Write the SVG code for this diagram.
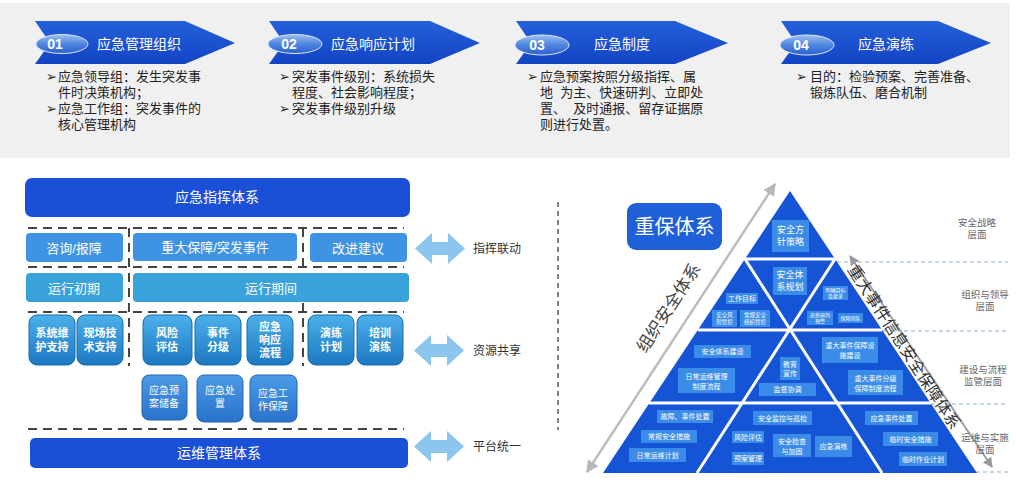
<svg xmlns="http://www.w3.org/2000/svg" width="1016" height="497" viewBox="0 0 1016 497">
<defs>
<style>
text{font-family:"Liberation Sans","Noto Sans CJK SC",sans-serif}
.bt{font-size:13px;fill:#222}
.ttl{font-size:14px;fill:#fff}
.num{font-size:14px;fill:#fff;font-weight:bold}
.wc{fill:#fff;text-anchor:middle;dominant-baseline:central}
.lbl{font-size:12px;fill:#333;dominant-baseline:central}
.dash{stroke:#444;stroke-width:2;stroke-dasharray:9 6;fill:none}
.r1{fill:#3f93e3}
.r2{fill:#3aa2db}
.pb{fill:#3b8ce8}
.wl{stroke:#fff;stroke-width:3}
.lay{font-size:9.5px;fill:#666;text-anchor:middle}
.hd{stroke:#90aecb;stroke-width:1;stroke-dasharray:4 3}
</style>
<linearGradient id="oval" x1="0" y1="0" x2="0" y2="1">
<stop offset="0" stop-color="#9cc0f2"/><stop offset="0.5" stop-color="#4f86e0"/><stop offset="1" stop-color="#2a5fd0"/>
</linearGradient>
<linearGradient id="ban" x1="0" y1="0" x2="0" y2="1">
<stop offset="0" stop-color="#2460da"/><stop offset="1" stop-color="#1444c4"/>
</linearGradient>
<linearGradient id="bev" x1="0" y1="0" x2="0" y2="1">
<stop offset="0" stop-color="#4cb0ea"/><stop offset="1" stop-color="#1c78c2"/>
</linearGradient>
<linearGradient id="bev2" x1="0" y1="0" x2="0" y2="1">
<stop offset="0" stop-color="#4a9be6"/><stop offset="1" stop-color="#2a72cc"/>
</linearGradient>
<marker id="ah" viewBox="0 0 10 10" refX="9" refY="5" markerWidth="5" markerHeight="5" orient="auto-start-reverse">
<path d="M0,0 L10,5 L0,10 z" fill="#b8b8b8"/>
</marker>
<marker id="ah2" viewBox="0 0 10 10" refX="9" refY="5" markerWidth="5" markerHeight="5" orient="auto-start-reverse">
<path d="M0,0 L10,5 L0,10 z" fill="#999"/>
</marker>
<path id="darr" d="M0,15.5 L17,0 L17,9 L33,9 L33,0 L50,15.5 L33,31 L33,22 L17,22 L17,31 z" fill="#8cc6ee"/>
</defs>

<rect x="0" y="0" width="1016" height="497" fill="#fff"/>
<rect x="0" y="3" width="1010" height="155" fill="#f0f0f0"/>

<!-- Top banners -->
<g id="banner1">
<polygon points="35,21 185,21 235,43 185,64 35,64 50,43" fill="url(#ban)"/>
<ellipse cx="62" cy="44" rx="26" ry="9.5" fill="url(#oval)" stroke="#dbe8fb" stroke-width="1"/>
<text class="num" x="55" y="49" text-anchor="middle">01</text>
<text class="ttl" x="139" y="49" text-anchor="middle">应急管理组织</text>
<text class="bt" x="46" y="81">➢</text>
<text class="bt" x="58" y="81">应急领导组：发生突发事</text>
<text class="bt" x="58" y="97">件时决策机构；</text>
<text class="bt" x="46" y="113">➢</text>
<text class="bt" x="58" y="113">应急工作组：突发事件的</text>
<text class="bt" x="58" y="129">核心管理机构</text>
</g>
<g id="banner2">
<polygon points="269,21 430,21 480,43 430,64 269,64 284,43" fill="url(#ban)"/>
<ellipse cx="295" cy="44" rx="27" ry="9.5" fill="url(#oval)" stroke="#dbe8fb" stroke-width="1"/>
<text class="num" x="289" y="49" text-anchor="middle">02</text>
<text class="ttl" x="373" y="49" text-anchor="middle">应急响应计划</text>
<text class="bt" x="279" y="81">➢</text>
<text class="bt" x="292" y="81">突发事件级别：系统损失</text>
<text class="bt" x="292" y="97">程度、社会影响程度；</text>
<text class="bt" x="279" y="113">➢</text>
<text class="bt" x="292" y="113">突发事件级别升级</text>
</g>
<g id="banner3">
<polygon points="516,21 675,21 728,43 675,64 516,64 531,43" fill="url(#ban)"/>
<ellipse cx="542" cy="45" rx="27" ry="10" fill="url(#oval)" stroke="#dbe8fb" stroke-width="1"/>
<text class="num" x="537" y="50" text-anchor="middle">03</text>
<text class="ttl" x="622" y="49" text-anchor="middle">应急制度</text>
<text class="bt" x="527" y="81">➢</text>
<text class="bt" x="540" y="81">应急预案按照分级指挥、属</text>
<text class="bt" x="540" y="97">地&#160;&#160;为主、快速研判、立即处</text>
<text class="bt" x="540" y="113">置、&#160;&#160;及时通报、留存证据原</text>
<text class="bt" x="540" y="129">则进行处置。</text>
</g>
<g id="banner4">
<polygon points="781,21 938,21 991,43 938,64 781,64 796,43" fill="url(#ban)"/>
<ellipse cx="807" cy="45" rx="27" ry="10" fill="url(#oval)" stroke="#dbe8fb" stroke-width="1"/>
<text class="num" x="801" y="50" text-anchor="middle">04</text>
<text class="ttl" x="886" y="49" text-anchor="middle">应急演练</text>
<text class="bt" x="796" y="81">➢</text>
<text class="bt" x="810" y="81">目的：检验预案、完善准备、</text>
<text class="bt" x="810" y="97">锻炼队伍、磨合机制</text>
</g>

<!-- Left diagram -->
<g id="connectors">
<line class="dash" x1="28" y1="228" x2="404" y2="228"/>
<line class="dash" x1="28" y1="267" x2="404" y2="267"/>
<line class="dash" x1="28" y1="312" x2="404" y2="312"/>
<line class="dash" x1="28" y1="429" x2="404" y2="429"/>
<line class="dash" x1="129" y1="228" x2="129" y2="366"/>
<line class="dash" x1="303" y1="228" x2="303" y2="366"/>
<use href="#darr" x="415" y="233"/>
<use href="#darr" x="414" y="335"/>
<use href="#darr" x="414" y="431"/>
<line x1="587" y1="472" x2="775" y2="184" stroke="#bdbdbd" stroke-width="2.5" marker-start="url(#ah)" marker-end="url(#ah)"/>
<line x1="850" y1="256" x2="992" y2="467" stroke="#a0a0a0" stroke-width="2" marker-start="url(#ah2)" marker-end="url(#ah2)"/>
<line x1="558" y1="202" x2="558" y2="430" stroke="#555" stroke-width="1.5" stroke-dasharray="5 4"/>
<line class="hd" x1="837" y1="262" x2="1008" y2="262"/>
<line class="hd" x1="883" y1="331" x2="1008" y2="331"/>
<line class="hd" x1="931" y1="404" x2="1008" y2="404"/>
<line class="hd" x1="976" y1="472" x2="1008" y2="472"/>
</g>
<text class="lbl" x="473" y="249">指挥联动</text>
<text class="lbl" x="473" y="351">资源共享</text>
<text class="lbl" x="473" y="447">平台统一</text>

<g id="cmd">
<rect x="25" y="178" width="385" height="39" rx="7" fill="#1a4fd8"/>
<text class="wc" x="217" y="197" font-size="14">应急指挥体系</text>
</g>
<g id="zixun"><rect class="r1" x="26" y="233" width="97" height="29" rx="4"/><text class="wc" x="74" y="248" font-size="13">咨询/报障</text></g>
<g id="zhongda"><rect class="r1" x="133" y="233" width="164" height="28" rx="4"/><text class="wc" x="215" y="247" font-size="13">重大保障/突发事件</text></g>
<g id="gaijin"><rect class="r1" x="310" y="233" width="97" height="29" rx="4"/><text class="wc" x="358" y="248" font-size="13">改进建议</text></g>
<g id="chuqi"><rect class="r2" x="26" y="273" width="97" height="29" rx="4"/><text class="wc" x="74" y="288" font-size="13">运行初期</text></g>
<g id="qijian"><rect class="r2" x="133" y="273" width="276" height="29" rx="4"/><text class="wc" x="271" y="288" font-size="13">运行期间</text></g>

<g id="b1"><rect x="29" y="315" width="46" height="50" rx="8" fill="url(#bev)" stroke="#1a6aa8"/><text class="wc" x="52" y="340" font-size="11" font-weight="bold"><tspan x="52" dy="-7">系统维</tspan><tspan x="52" dy="14">护支持</tspan></text></g>
<g id="b2"><rect x="77" y="315" width="46" height="50" rx="8" fill="url(#bev)" stroke="#1a6aa8"/><text class="wc" x="100" y="340" font-size="11" font-weight="bold"><tspan x="100" dy="-7">现场技</tspan><tspan x="100" dy="14">术支持</tspan></text></g>
<g id="b3"><rect x="143" y="315" width="49" height="50" rx="8" fill="url(#bev)" stroke="#1a6aa8"/><text class="wc" x="167" y="340" font-size="11" font-weight="bold"><tspan x="167" dy="-7">风险</tspan><tspan x="167" dy="14">评估</tspan></text></g>
<g id="b4"><rect x="195" y="315" width="46" height="50" rx="8" fill="url(#bev)" stroke="#1a6aa8"/><text class="wc" x="218" y="340" font-size="11" font-weight="bold"><tspan x="218" dy="-7">事件</tspan><tspan x="218" dy="14">分级</tspan></text></g>
<g id="b5"><rect x="247" y="315" width="46" height="50" rx="8" fill="url(#bev)" stroke="#1a6aa8"/><text class="wc" x="270" y="340" font-size="11" font-weight="bold"><tspan x="270" dy="-13">应急</tspan><tspan x="270" dy="13">响应</tspan><tspan x="270" dy="13">流程</tspan></text></g>
<g id="b6"><rect x="308" y="315" width="46" height="50" rx="8" fill="url(#bev)" stroke="#1a6aa8"/><text class="wc" x="331" y="340" font-size="11" font-weight="bold"><tspan x="331" dy="-7">演练</tspan><tspan x="331" dy="14">计划</tspan></text></g>
<g id="b7"><rect x="357" y="315" width="46" height="50" rx="8" fill="url(#bev)" stroke="#1a6aa8"/><text class="wc" x="380" y="340" font-size="11" font-weight="bold"><tspan x="380" dy="-7">培训</tspan><tspan x="380" dy="14">演练</tspan></text></g>

<g id="c1"><rect x="142" y="375" width="45" height="45" rx="7" fill="url(#bev2)" stroke="#2465b0"/><text class="wc" x="164" y="396" font-size="10"><tspan x="164" dy="-6">应急预</tspan><tspan x="164" dy="13">案储备</tspan></text></g>
<g id="c2"><rect x="197" y="375" width="46" height="47" rx="7" fill="url(#bev2)" stroke="#2465b0"/><text class="wc" x="220" y="396" font-size="10"><tspan x="220" dy="-6">应急处</tspan><tspan x="220" dy="13">置</tspan></text></g>
<g id="c3"><rect x="250" y="375" width="47" height="47" rx="7" fill="url(#bev2)" stroke="#2465b0"/><text class="wc" x="273" y="399" font-size="10"><tspan x="273" dy="-6">应急工</tspan><tspan x="273" dy="13">作保障</tspan></text></g>

<g id="ops">
<rect x="30" y="438" width="378" height="30" rx="5" fill="#1a4fd8"/>
<text class="wc" x="219" y="453" font-size="14">运维管理体系</text>
</g>

<!-- Pyramid -->
<g id="pyramid">
<polygon points="790,191 977,473 603,473" fill="#1654d6"/>
<line class="wl" x1="745" y1="259" x2="835" y2="259"/>
<line class="wl" x1="698" y1="330" x2="882" y2="330"/>
<line class="wl" x1="649" y1="403" x2="931" y2="403"/>
<line class="wl" x1="745" y1="259" x2="882" y2="473"/>
<line class="wl" x1="835" y1="259" x2="697" y2="473"/>

<rect class="pb" x="772" y="220" width="37" height="32"/>
<text class="wc" font-size="9"><tspan x="790.5" y="230">安全方</tspan><tspan x="790.5" y="242">针策略</tspan></text>
<rect class="pb" x="773" y="267" width="34" height="28"/>
<text class="wc" font-size="9"><tspan x="790" y="275">安全体</tspan><tspan x="790" y="287">系规划</tspan></text>
<rect class="pb" x="726" y="293" width="32" height="11"/>
<text class="wc" font-size="7" x="742" y="298.5">工作目标</text>
<rect class="pb" x="712" y="310" width="25" height="17"/>
<text class="wc" font-size="5.5"><tspan x="724.5" y="315">安全风</tspan><tspan x="724.5" y="322">险管控</tspan></text>
<rect class="pb" x="740" y="310" width="30" height="17"/>
<text class="wc" font-size="5.5"><tspan x="755" y="315">常规安全</tspan><tspan x="755" y="322">组织管控</tspan></text>
<rect class="pb" x="823" y="286" width="25" height="14"/>
<text class="wc" font-size="5"><tspan x="835.5" y="290">明确目标</tspan><tspan x="835.5" y="296">及要求</tspan></text>
<rect class="pb" x="807" y="311" width="26" height="14"/>
<text class="wc" font-size="5"><tspan x="820" y="315">态势研判</tspan><tspan x="820" y="321">预警</tspan></text>
<rect class="pb" x="838" y="313" width="25" height="10"/>
<text class="wc" font-size="5" x="850.5" y="318">保障团队</text>

<rect class="pb" x="694" y="345" width="57" height="13"/>
<text class="wc" font-size="7" x="722.5" y="351.5">安全体系建设</text>
<rect class="pb" x="678" y="368" width="57" height="25"/>
<text class="wc" font-size="7"><tspan x="706.5" y="376">日常运维管理</tspan><tspan x="706.5" y="386">制度流程</tspan></text>
<rect class="pb" x="780" y="357" width="20" height="23"/>
<text class="wc" font-size="7"><tspan x="790" y="364">教育</tspan><tspan x="790" y="373">宣传</tspan></text>
<rect class="pb" x="759" y="383" width="57" height="13"/>
<text class="wc" font-size="7" x="787.5" y="389.5">监督协调</text>
<rect class="pb" x="822" y="337" width="56" height="26"/>
<text class="wc" font-size="7"><tspan x="850" y="345">重大事件保障设</tspan><tspan x="850" y="355">施建设</tspan></text>
<rect class="pb" x="848" y="370" width="55" height="25"/>
<text class="wc" font-size="7"><tspan x="875.5" y="378">重大事件分级</tspan><tspan x="875.5" y="388">保障制度流程</tspan></text>

<rect class="pb" x="657" y="410" width="56" height="13"/>
<text class="wc" font-size="7" x="685" y="416.5">故障、事件处置</text>
<rect class="pb" x="641" y="430" width="56" height="13"/>
<text class="wc" font-size="7" x="669" y="436.5">常规安全措施</text>
<rect class="pb" x="629" y="448" width="57" height="14"/>
<text class="wc" font-size="7" x="657.5" y="455">日常运维计划</text>
<rect class="pb" x="753" y="411" width="59" height="14"/>
<text class="wc" font-size="7" x="782.5" y="418">安全监控与巡检</text>
<rect class="pb" x="732" y="431" width="32" height="12"/>
<text class="wc" font-size="7" x="748" y="437">风险评估</text>
<rect class="pb" x="732" y="452" width="32" height="13"/>
<text class="wc" font-size="7" x="748" y="458.5">预案管理</text>
<rect class="pb" x="773" y="434" width="38" height="23"/>
<text class="wc" font-size="7"><tspan x="792" y="441">安全检查</tspan><tspan x="792" y="451">与加固</tspan></text>
<rect class="pb" x="815" y="436" width="37" height="21"/>
<text class="wc" font-size="7" x="833.5" y="446.5">应急演练</text>
<rect class="pb" x="865" y="411" width="53" height="14"/>
<text class="wc" font-size="7" x="891.5" y="418">应急事件处置</text>
<rect class="pb" x="883" y="432" width="55" height="14"/>
<text class="wc" font-size="7" x="910.5" y="439">临时安全措施</text>
<rect class="pb" x="899" y="452" width="48" height="14"/>
<text class="wc" font-size="7" x="923" y="459">临时作业计划</text>
</g>

<g id="title">
<rect x="627" y="203" width="95" height="47" rx="9" fill="#1f5fd8"/>
<text class="wc" x="674.5" y="226.5" font-size="20">重保体系</text>
</g>
<text class="wc" x="669" y="308" font-size="17" style="fill:#444" transform="rotate(-57 669 308)">组织安全体系</text>
<text class="wc" x="904" y="347" font-size="16" style="fill:#333" transform="rotate(57 904 347)">重大事件信息安全保障体系</text>

<g id="layers">
<text class="lay"><tspan x="977" y="226">安全战略</tspan><tspan x="977" y="238">层面</tspan></text>
<text class="lay"><tspan x="985" y="298">组织与领导</tspan><tspan x="985" y="310">层面</tspan></text>
<text class="lay"><tspan x="983" y="373">建设与流程</tspan><tspan x="983" y="385">监管层面</tspan></text>
<text class="lay"><tspan x="985" y="441">运维与实施</tspan><tspan x="985" y="453">层面</tspan></text>
</g>
</svg>
